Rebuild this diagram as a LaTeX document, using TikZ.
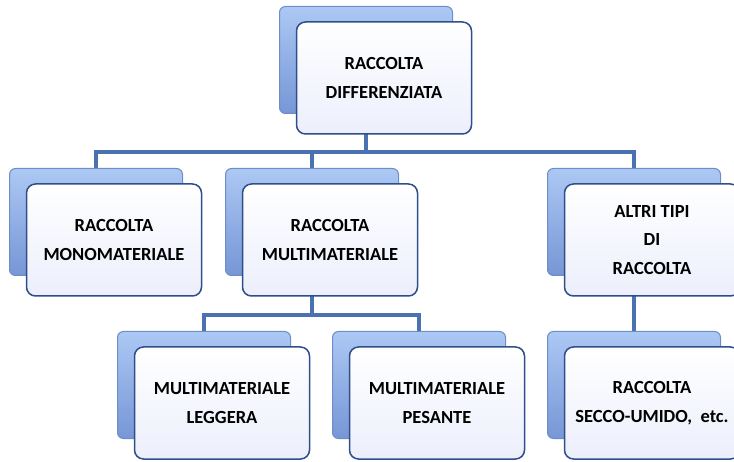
\documentclass[tikz,border=0pt]{standalone}
\usepackage{fontspec}
\setmainfont{Carlito}[BoldFont={Carlito Bold}]
\usetikzlibrary{backgrounds}
\definecolor{linkblue}{RGB}{74,114,176}
\definecolor{backtop}{RGB}{172,200,244}
\definecolor{backbot}{RGB}{118,150,214}
\definecolor{backedge}{RGB}{110,140,200}
\definecolor{frontedge}{RGB}{48,78,138}
\definecolor{frontbot}{RGB}{236,239,252}
\tikzset{
 backbox/.style={rounded corners=6pt, minimum width=173pt, minimum height=107pt,
   top color=backtop, bottom color=backbot, draw=backedge, line width=1pt},
 frontbox/.style={rounded corners=9pt, minimum width=175pt, minimum height=112pt,
   top color=white, bottom color=frontbot,
   draw=frontedge, line width=1.5pt, align=center,
   font=\fontsize{18.5}{28.5}\selectfont\bfseries},
 link/.style={linkblue, line width=4pt}
}
% back box + front box with text
\newcommand{\bx}[4]{%
 \node[backbox] (#1b) at (#2,#3) {};
 \node[frontbox] (#1) at (#2+18,#3-18) {#4};
}

\begin{document}
\begin{tikzpicture}[x=1pt,y=1pt]
\useasboundingbox (0,0) rectangle (734,461);
\bx{top}{366}{401}{RACCOLTA\\DIFFERENZIATA}
\bx{mono}{96}{239}{RACCOLTA\\MONOMATERIALE}
\bx{multi}{312}{239}{RACCOLTA\\MULTIMATERIALE}
\bx{altri}{634}{239}{ALTRI TIPI\\DI\\RACCOLTA}
\bx{leggera}{204}{76}{MULTIMATERIALE\\LEGGERA}
\bx{pesante}{419}{76}{MULTIMATERIALE\\PESANTE}
\bx{secco}{634}{76}{RACCOLTA\\SECCO-UMIDO,\ \ etc.}
\coordinate (bus1) at (366,309);
\coordinate (bus2) at (312,146);
\begin{scope}[on background layer]
 \draw[link] (topb.south) -- (bus1);
 \draw[link] (monob.north) |- (bus1) -| (altrib.north);
 \draw[link] (multib.north) -- (multib.north |- bus1);
 \draw[link] (multib.south) -- (bus2);
 \draw[link] (leggerab.north) |- (bus2) -| (pesanteb.north);
 \draw[link] (altrib.south) -- (seccob.north);
\end{scope}
\end{tikzpicture}
\end{document}
